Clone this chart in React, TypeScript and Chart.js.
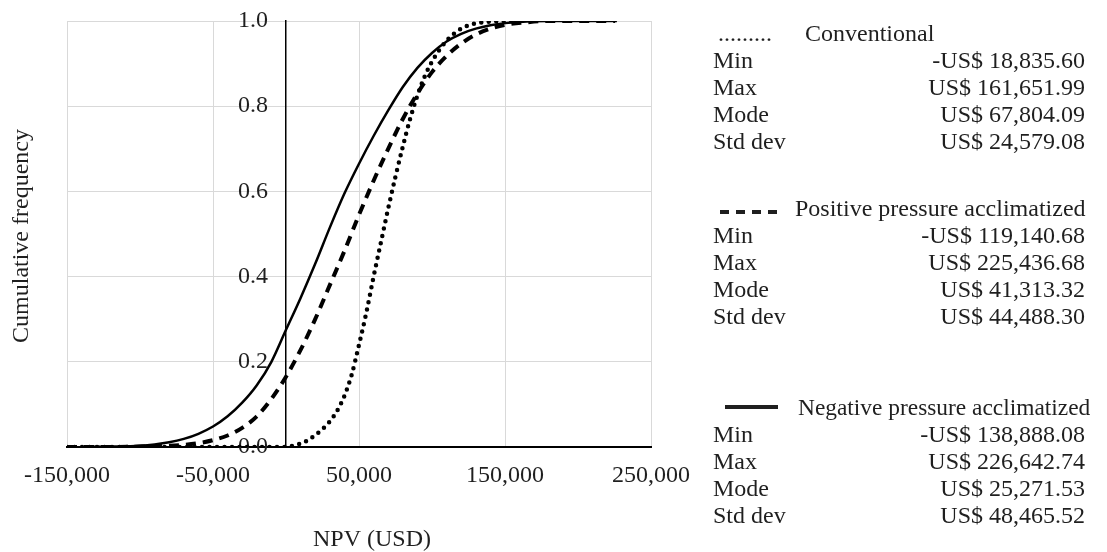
import React, { useEffect, useRef } from 'react';
import { Chart, registerables } from 'chart.js';

Chart.register(...registerables);

// ---- Data ----
const xTickValues = [-150000, -50000, 50000, 150000, 250000];
const yTickValues = [0, 0.2, 0.4, 0.6, 0.8, 1.0];

// Negative pressure acclimatized (solid)
const negX = [-140000, -120000, -100000, -90000, -80000, -70000, -60000, -50000, -40000, -30000, -20000, -10000, 0, 10000, 20000, 30000, 40000, 50000, 60000, 70000, 80000, 90000, 100000, 110000, 120000, 130000, 140000, 150000, 165000, 180000, 226643];
const negY = [0, 0.001, 0.003, 0.006, 0.011, 0.019, 0.031, 0.048, 0.072, 0.104, 0.145, 0.2, 0.275, 0.35, 0.43, 0.515, 0.595, 0.665, 0.73, 0.79, 0.845, 0.89, 0.925, 0.952, 0.97, 0.982, 0.99, 0.995, 0.999, 1.0, 1.0];

// Positive pressure acclimatized (dashed)
const posX = [-150000, -120000, -100000, -80000, -70000, -60000, -50000, -40000, -30000, -20000, -10000, 0, 10000, 20000, 30000, 40000, 50000, 60000, 70000, 80000, 90000, 100000, 110000, 120000, 130000, 140000, 150000, 165000, 180000, 225437];
const posY = [0, 0, 0.001, 0.003, 0.005, 0.009, 0.016, 0.027, 0.045, 0.072, 0.113, 0.165, 0.228, 0.3, 0.38, 0.46, 0.545, 0.625, 0.7, 0.77, 0.83, 0.88, 0.918, 0.947, 0.968, 0.982, 0.991, 0.997, 1.0, 1.0];

// Conventional (dotted)
const convX = [-150000, -50000, 0, 5000, 10000, 15000, 20000, 25000, 30000, 35000, 40000, 45000, 50000, 55000, 60000, 65000, 70000, 75000, 80000, 85000, 90000, 95000, 100000, 105000, 110000, 115000, 120000, 125000, 135000, 150000, 161652];
const convY = [0, 0, 0, 0.003, 0.008, 0.016, 0.028, 0.042, 0.06, 0.085, 0.12, 0.17, 0.24, 0.315, 0.4, 0.48, 0.56, 0.635, 0.705, 0.77, 0.825, 0.87, 0.905, 0.932, 0.954, 0.97, 0.982, 0.99, 0.997, 1.0, 1.0];

const seriesNames = ['Conventional', 'Positive pressure acclimatized', 'Negative pressure acclimatized'];
const statLabels = ['Min', 'Max', 'Mode', 'Std dev'];
const convStats = ['-US$ 18,835.60', 'US$ 161,651.99', 'US$ 67,804.09', 'US$ 24,579.08'];
const posStats = ['-US$ 119,140.68', 'US$ 225,436.68', 'US$ 41,313.32', 'US$ 44,488.30'];
const negStats = ['-US$ 138,888.08', 'US$ 226,642.74', 'US$ 25,271.53', 'US$ 48,465.52'];

const xTitle = 'NPV (USD)';
const yTitle = 'Cumulative frequency';

const FAMILY = '"Liberation Serif", "Times New Roman", serif';
const TEXT = '#1f1f1f';

const toPts = (xs: number[], ys: number[]) => xs.map((x, i) => ({ x, y: ys[i] }));

const overlayPlugin = {
  id: 'overlay',
  afterDraw(chart: any) {
    const ctx = chart.ctx as CanvasRenderingContext2D;
    ctx.save();
    ctx.fillStyle = TEXT;
    ctx.font = `24px ${FAMILY}`;
    ctx.textBaseline = 'middle';

    // Y title
    ctx.save();
    ctx.translate(22, 236);
    ctx.rotate(-Math.PI / 2);
    ctx.textAlign = 'center';
    ctx.fillText(yTitle, 0, 0);
    ctx.restore();

    // X title
    ctx.textAlign = 'center';
    ctx.fillText(xTitle, 372, 540);

    // Legend panel
    const labelX = 713;
    const valueX = 1085;
    const groups = [
      { name: seriesNames[0], stats: convStats, headY: 35, nameX: 805, kind: 'dot' },
      { name: seriesNames[1], stats: posStats, headY: 210, nameX: 795, kind: 'dash' },
      { name: seriesNames[2], stats: negStats, headY: 409, nameX: 798, kind: 'solid' },
    ];
    groups.forEach((g) => {
      ctx.textAlign = 'left';
      ctx.font = `24px ${FAMILY}`;
      if (g.kind === 'solid') ctx.font = `23.4px ${FAMILY}`;
      ctx.fillText(g.name, g.nameX, g.headY);
      ctx.font = `24px ${FAMILY}`;
      if (g.kind === 'dot') {
        ctx.fillText('.........', 718, g.headY);
      } else if (g.kind === 'dash') {
        for (let i = 0; i < 4; i++) {
          ctx.fillRect(720 + i * 16, g.headY, 9, 4);
        }
      } else {
        ctx.fillRect(725, g.headY - 4, 53, 4);
      }
      g.stats.forEach((s, i) => {
        const y = g.headY + 27 * (i + 1);
        ctx.textAlign = 'left';
        ctx.fillText(statLabels[i], labelX, y);
        ctx.textAlign = 'right';
        ctx.fillText(s, valueX, y);
      });
    });
    ctx.restore();
  },
};

export default function App() {
  const ref = useRef<HTMLCanvasElement | null>(null);

  useEffect(() => {
    if (!ref.current) return;
    const font = { family: FAMILY, size: 24 };
    const chart = new Chart(ref.current, {
      type: 'scatter',
      data: {
        datasets: [
          {
            label: seriesNames[0],
            data: toPts(convX, convY),
            showLine: true,
            borderColor: '#000',
            borderWidth: 4.5,
            borderDash: [0, 7.5],
            borderCapStyle: 'round',
            pointRadius: 0,
            cubicInterpolationMode: 'monotone',
          },
          {
            label: seriesNames[1],
            data: toPts(posX, posY),
            showLine: true,
            borderColor: '#000',
            borderWidth: 4,
            borderDash: [10, 7],
            pointRadius: 0,
            cubicInterpolationMode: 'monotone',
          },
          {
            label: seriesNames[2],
            data: toPts(negX, negY),
            showLine: true,
            borderColor: '#000',
            borderWidth: 2.5,
            pointRadius: 0,
            cubicInterpolationMode: 'monotone',
          },
        ],
      } as any,
      options: {
        animation: false,
        responsive: false,
        devicePixelRatio: 1,
        layout: { padding: { left: 67, right: 456, top: 21, bottom: 0 } },
        plugins: { legend: { display: false }, tooltip: { enabled: false } },
        scales: {
          x: {
            type: 'linear',
            min: -150000,
            max: 250000,
            afterBuildTicks: (s: any) => {
              s.ticks = xTickValues.map((v) => ({ value: v }));
            },
            afterFit: (s: any) => {
              s.height = 105;
            },
            grid: { color: '#d9d9d9', lineWidth: 1, drawTicks: false },
            border: { display: true, color: '#000', width: 2 },
            ticks: {
              padding: 14,
              font,
              color: TEXT,
              maxRotation: 0,
              autoSkip: false,
              callback: (v: any) => Number(v).toLocaleString('en-US'),
            },
          },
          y: {
            type: 'linear',
            min: 0,
            max: 1,
            position: { x: 0 } as any,
            afterBuildTicks: (s: any) => {
              s.ticks = yTickValues.map((v) => ({ value: v }));
            },
            grid: { color: '#d9d9d9', lineWidth: 1, drawTicks: false },
            border: { display: true, color: '#000', width: 1.5 },
            ticks: {
              padding: 0,
              font,
              color: TEXT,
              callback: (v: any) => Number(v).toFixed(1) + '   ',
            },
          },
        },
      } as any,
      plugins: [overlayPlugin],
    });
    return () => chart.destroy();
  }, []);

  return (
    <div style={{ position: 'absolute', left: 0, top: 0, width: 1107, height: 552, background: '#fff' }}>
      <canvas ref={ref} width={1107} height={552} style={{ display: 'block' }} />
    </div>
  );
}
